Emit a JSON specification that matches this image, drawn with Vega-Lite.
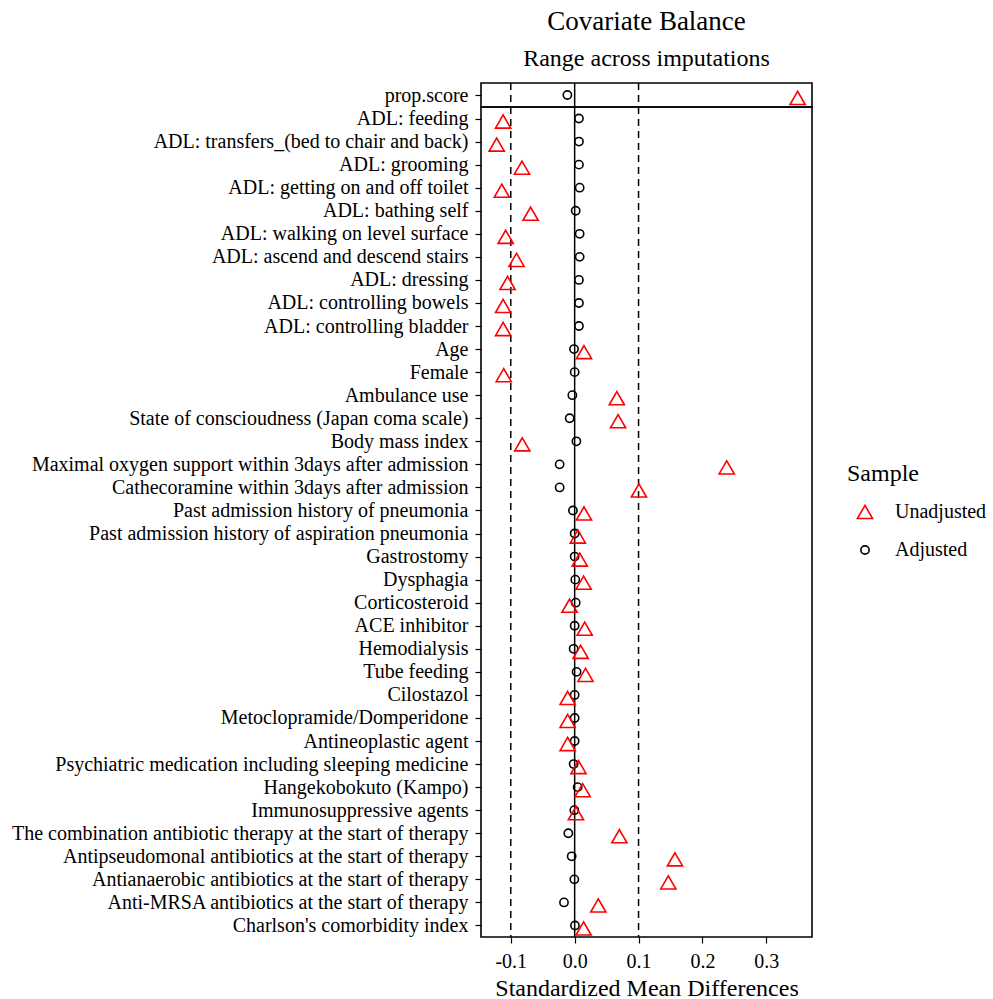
{
  "$schema": "https://vega.github.io/schema/vega-lite/v6.json",
  "padding": {"left": 0, "top": 7, "right": 0, "bottom": 0},
  "background": "white",
  "bounds": "flush",
  "config": {
    "font": "Liberation Serif",
    "view": {"stroke": "black", "strokeWidth": 1.6},
    "axis": {"labelFont": "Liberation Serif", "titleFont": "Liberation Serif", "labelColor": "black", "titleColor": "black", "tickColor": "black", "grid": false, "domain": false, "tickWidth": 1.2},
    "legend": {"labelFont": "Liberation Serif", "titleFont": "Liberation Serif", "labelColor": "black", "titleColor": "black"},
    "title": {"font": "Liberation Serif", "subtitleFont": "Liberation Serif", "color": "black", "subtitleColor": "black"}
  },
  "datasets": {
    "balance": [
      {"Variable": "prop.score", "Sample": "Unadjusted", "SMD": 0.349},
      {"Variable": "prop.score", "Sample": "Adjusted", "SMD": -0.0114},
      {"Variable": "ADL: feeding", "Sample": "Unadjusted", "SMD": -0.112},
      {"Variable": "ADL: feeding", "Sample": "Adjusted", "SMD": 0.0067},
      {"Variable": "ADL: transfers_(bed to chair and back)", "Sample": "Unadjusted", "SMD": -0.122},
      {"Variable": "ADL: transfers_(bed to chair and back)", "Sample": "Adjusted", "SMD": 0.0067},
      {"Variable": "ADL: grooming", "Sample": "Unadjusted", "SMD": -0.0825},
      {"Variable": "ADL: grooming", "Sample": "Adjusted", "SMD": 0.0067},
      {"Variable": "ADL: getting on and off toilet\u00a0", "Sample": "Unadjusted", "SMD": -0.114},
      {"Variable": "ADL: getting on and off toilet\u00a0", "Sample": "Adjusted", "SMD": 0.0078},
      {"Variable": "ADL: bathing self", "Sample": "Unadjusted", "SMD": -0.069},
      {"Variable": "ADL: bathing self", "Sample": "Adjusted", "SMD": 0.0016},
      {"Variable": "ADL: walking on level surface", "Sample": "Unadjusted", "SMD": -0.108},
      {"Variable": "ADL: walking on level surface", "Sample": "Adjusted", "SMD": 0.0078},
      {"Variable": "ADL: ascend and descend stairs", "Sample": "Unadjusted", "SMD": -0.091},
      {"Variable": "ADL: ascend and descend stairs", "Sample": "Adjusted", "SMD": 0.0078},
      {"Variable": "ADL: dressing", "Sample": "Unadjusted", "SMD": -0.105},
      {"Variable": "ADL: dressing", "Sample": "Adjusted", "SMD": 0.0067},
      {"Variable": "ADL: controlling bowels", "Sample": "Unadjusted", "SMD": -0.112},
      {"Variable": "ADL: controlling bowels", "Sample": "Adjusted", "SMD": 0.0067},
      {"Variable": "ADL: controlling bladder", "Sample": "Unadjusted", "SMD": -0.112},
      {"Variable": "ADL: controlling bladder", "Sample": "Adjusted", "SMD": 0.0067},
      {"Variable": "Age", "Sample": "Unadjusted", "SMD": 0.0146},
      {"Variable": "Age", "Sample": "Adjusted", "SMD": -0.001},
      {"Variable": "Female\u00a0\u00a0\u00a0\u00a0\u00a0", "Sample": "Unadjusted", "SMD": -0.111},
      {"Variable": "Female\u00a0\u00a0\u00a0\u00a0\u00a0", "Sample": "Adjusted", "SMD": 0.0},
      {"Variable": "Ambulance use", "Sample": "Unadjusted", "SMD": 0.066},
      {"Variable": "Ambulance use", "Sample": "Adjusted", "SMD": -0.0036},
      {"Variable": "State of conscioudness (Japan coma scale)", "Sample": "Unadjusted", "SMD": 0.068},
      {"Variable": "State of conscioudness (Japan coma scale)", "Sample": "Adjusted", "SMD": -0.0078},
      {"Variable": "Body mass index", "Sample": "Unadjusted", "SMD": -0.082},
      {"Variable": "Body mass index", "Sample": "Adjusted", "SMD": 0.0027},
      {"Variable": "Maximal oxygen support within 3days after admission", "Sample": "Unadjusted", "SMD": 0.238},
      {"Variable": "Maximal oxygen support within 3days after admission", "Sample": "Adjusted", "SMD": -0.0235},
      {"Variable": "Cathecoramine within 3days after admission", "Sample": "Unadjusted", "SMD": 0.1006},
      {"Variable": "Cathecoramine within 3days after admission", "Sample": "Adjusted", "SMD": -0.0235},
      {"Variable": "Past admission history of pneumonia", "Sample": "Unadjusted", "SMD": 0.0146},
      {"Variable": "Past admission history of pneumonia", "Sample": "Adjusted", "SMD": -0.0027},
      {"Variable": "Past admission history of aspiration pneumonia", "Sample": "Unadjusted", "SMD": 0.005},
      {"Variable": "Past admission history of aspiration pneumonia", "Sample": "Adjusted", "SMD": 0.0},
      {"Variable": "Gastrostomy", "Sample": "Unadjusted", "SMD": 0.008},
      {"Variable": "Gastrostomy", "Sample": "Adjusted", "SMD": 0.0},
      {"Variable": "Dysphagia", "Sample": "Unadjusted", "SMD": 0.014},
      {"Variable": "Dysphagia", "Sample": "Adjusted", "SMD": 0.001},
      {"Variable": "Corticosteroid", "Sample": "Unadjusted", "SMD": -0.008},
      {"Variable": "Corticosteroid", "Sample": "Adjusted", "SMD": 0.0016},
      {"Variable": "ACE inhibitor", "Sample": "Unadjusted", "SMD": 0.0157},
      {"Variable": "ACE inhibitor", "Sample": "Adjusted", "SMD": 0.0},
      {"Variable": "Hemodialysis", "Sample": "Unadjusted", "SMD": 0.0094},
      {"Variable": "Hemodialysis", "Sample": "Adjusted", "SMD": -0.0016},
      {"Variable": "Tube feeding", "Sample": "Unadjusted", "SMD": 0.017},
      {"Variable": "Tube feeding", "Sample": "Adjusted", "SMD": 0.003},
      {"Variable": "Cilostazol", "Sample": "Unadjusted", "SMD": -0.011},
      {"Variable": "Cilostazol", "Sample": "Adjusted", "SMD": 0.0},
      {"Variable": "Metoclopramide/Domperidone", "Sample": "Unadjusted", "SMD": -0.011},
      {"Variable": "Metoclopramide/Domperidone", "Sample": "Adjusted", "SMD": 0.0},
      {"Variable": "Antineoplastic agent", "Sample": "Unadjusted", "SMD": -0.011},
      {"Variable": "Antineoplastic agent", "Sample": "Adjusted", "SMD": 0.0},
      {"Variable": "Psychiatric medication including sleeping medicine", "Sample": "Unadjusted", "SMD": 0.006},
      {"Variable": "Psychiatric medication including sleeping medicine", "Sample": "Adjusted", "SMD": -0.0016},
      {"Variable": "Hangekobokuto (Kampo)", "Sample": "Unadjusted", "SMD": 0.0125},
      {"Variable": "Hangekobokuto (Kampo)", "Sample": "Adjusted", "SMD": 0.0047},
      {"Variable": "Immunosuppressive agents", "Sample": "Unadjusted", "SMD": 0.002},
      {"Variable": "Immunosuppressive agents", "Sample": "Adjusted", "SMD": -0.0005},
      {"Variable": "The combination antibiotic therapy at the start of therapy", "Sample": "Unadjusted", "SMD": 0.07},
      {"Variable": "The combination antibiotic therapy at the start of therapy", "Sample": "Adjusted", "SMD": -0.0099},
      {"Variable": "Antipseudomonal antibiotics at the start of therapy", "Sample": "Unadjusted", "SMD": 0.157},
      {"Variable": "Antipseudomonal antibiotics at the start of therapy", "Sample": "Adjusted", "SMD": -0.0047},
      {"Variable": "Antianaerobic antibiotics at the start of therapy", "Sample": "Unadjusted", "SMD": 0.1466},
      {"Variable": "Antianaerobic antibiotics at the start of therapy", "Sample": "Adjusted", "SMD": -0.0005},
      {"Variable": "Anti-MRSA antibiotics at the start of therapy", "Sample": "Unadjusted", "SMD": 0.037},
      {"Variable": "Anti-MRSA antibiotics at the start of therapy", "Sample": "Adjusted", "SMD": -0.0167},
      {"Variable": "Charlson's comorbidity index", "Sample": "Unadjusted", "SMD": 0.014},
      {"Variable": "Charlson's comorbidity index", "Sample": "Adjusted", "SMD": 0.0005}
    ]
  },
  "spacing": 0,
  "resolve": {"legend": {"shape": "independent", "color": "independent", "size": "independent"}},
  "vconcat": [
    {
      "width": 331,
      "height": 24,
      "title": {"text": "Covariate Balance", "subtitle": "Range across imputations", "anchor": "middle", "frame": "group", "fontSize": 27, "fontWeight": "normal", "subtitleFontSize": 24, "subtitlePadding": 11, "offset": 10},
      "layer": [
        {
          "data": {"values": [{"x": -0.1}, {"x": 0.1}]},
          "mark": {"type": "rule", "color": "black", "strokeWidth": 1.5, "strokeDash": [7, 5]},
          "encoding": {"x": {"field": "x", "type": "quantitative", "axis": null, "scale": {"domain": [-0.1466, 0.3715], "nice": false, "zero": false}}}
        },
        {
          "data": {"values": [{"x": 0}]},
          "mark": {"type": "rule", "color": "black", "strokeWidth": 1.5},
          "encoding": {"x": {"field": "x", "type": "quantitative", "axis": null, "scale": {"domain": [-0.1466, 0.3715], "nice": false, "zero": false}}}
        },
        {
          "data": {"name": "balance"},
          "transform": [{"filter": "datum.Variable == 'prop.score' && datum.Sample == 'Adjusted'"}],
          "mark": {"type": "point", "filled": false, "strokeWidth": 1.6, "opacity": 1},
          "encoding": {
            "x": {"field": "SMD", "type": "quantitative", "axis": null, "scale": {"domain": [-0.1466, 0.3715], "nice": false, "zero": false}},
            "y": {"field": "Variable", "type": "nominal", "sort": null, "title": null, "axis": {"labelFontSize": 20, "labelLimit": 478, "tickSize": 6, "labelPadding": 7, "minExtent": 479.5, "maxExtent": 479.5}},
            "shape": {"field": "Sample", "type": "nominal", "legend": null, "scale": {"domain": ["Unadjusted", "Adjusted"], "range": ["triangle-up", "circle"]}},
            "color": {"field": "Sample", "type": "nominal", "legend": null, "scale": {"domain": ["Unadjusted", "Adjusted"], "range": ["#ff0000", "#000000"]}},
            "size": {"field": "Sample", "type": "nominal", "legend": null, "scale": {"domain": ["Unadjusted", "Adjusted"], "range": [230, 68]}}
          }
        },
        {
          "data": {"name": "balance"},
          "transform": [{"filter": "datum.Variable == 'prop.score' && datum.Sample == 'Unadjusted'"}],
          "mark": {"type": "point", "filled": false, "strokeWidth": 1.6, "opacity": 1, "yOffset": 3},
          "encoding": {
            "x": {"field": "SMD", "type": "quantitative", "axis": null, "scale": {"domain": [-0.1466, 0.3715], "nice": false, "zero": false}},
            "y": {"field": "Variable", "type": "nominal", "sort": null, "title": null},
            "shape": {"field": "Sample", "type": "nominal", "legend": null, "scale": {"domain": ["Unadjusted", "Adjusted"], "range": ["triangle-up", "circle"]}},
            "color": {"field": "Sample", "type": "nominal", "legend": null, "scale": {"domain": ["Unadjusted", "Adjusted"], "range": ["#ff0000", "#000000"]}},
            "size": {"field": "Sample", "type": "nominal", "legend": null, "scale": {"domain": ["Unadjusted", "Adjusted"], "range": [230, 68]}}
          }
        }
      ]
    },
    {
      "width": 331,
      "height": 830,
      "layer": [
        {
          "data": {"values": [{"x": -0.1}, {"x": 0.1}]},
          "mark": {"type": "rule", "color": "black", "strokeWidth": 1.5, "strokeDash": [7, 5]},
          "encoding": {"x": {"field": "x", "type": "quantitative", "scale": {"domain": [-0.1466, 0.3715], "nice": false, "zero": false}}}
        },
        {
          "data": {"values": [{"x": 0}]},
          "mark": {"type": "rule", "color": "black", "strokeWidth": 1.5},
          "encoding": {"x": {"field": "x", "type": "quantitative", "scale": {"domain": [-0.1466, 0.3715], "nice": false, "zero": false}}}
        },
        {
          "data": {"name": "balance"},
          "transform": [{"filter": "datum.Variable != 'prop.score' && datum.Sample == 'Adjusted'"}],
          "mark": {"type": "point", "filled": false, "strokeWidth": 1.6, "opacity": 1},
          "encoding": {
            "x": {"field": "SMD", "type": "quantitative", "title": "Standardized Mean Differences", "scale": {"domain": [-0.1466, 0.3715], "nice": false, "zero": false}, "axis": {"values": [-0.1, 0, 0.1, 0.2, 0.3], "labelExpr": "datum.value < 0 ? '-' + format(-datum.value, '.1f') : format(datum.value, '.1f')", "labelFontSize": 20, "titleFontSize": 24, "titleFontWeight": "normal", "tickSize": 6, "labelPadding": 8, "titlePadding": 5}},
            "y": {"field": "Variable", "type": "nominal", "sort": null, "title": null, "scale": {"type": "point", "padding": 0.5}, "axis": {"labelFontSize": 20, "labelLimit": 478, "tickSize": 6, "labelPadding": 7, "minExtent": 479.5, "maxExtent": 479.5}},
            "shape": {"field": "Sample", "type": "nominal", "scale": {"domain": ["Unadjusted", "Adjusted"], "range": ["triangle-up", "circle"]}, "legend": {"orient": "none", "legendX": 366, "legendY": 355, "title": "Sample", "titleFontSize": 24, "titleFontWeight": "normal", "labelFontSize": 20, "titlePadding": 16, "rowPadding": 18, "symbolOffset": 8, "labelOffset": 20, "symbolStrokeWidth": 1.6}},
            "color": {"field": "Sample", "type": "nominal", "scale": {"domain": ["Unadjusted", "Adjusted"], "range": ["#ff0000", "#000000"]}},
            "size": {"field": "Sample", "type": "nominal", "scale": {"domain": ["Unadjusted", "Adjusted"], "range": [230, 68]}}
          }
        },
        {
          "data": {"name": "balance"},
          "transform": [{"filter": "datum.Variable != 'prop.score' && datum.Sample == 'Unadjusted'"}],
          "mark": {"type": "point", "filled": false, "strokeWidth": 1.6, "opacity": 1, "yOffset": 3},
          "encoding": {
            "x": {"field": "SMD", "type": "quantitative", "scale": {"domain": [-0.1466, 0.3715], "nice": false, "zero": false}},
            "y": {"field": "Variable", "type": "nominal", "sort": null, "title": null},
            "shape": {"field": "Sample", "type": "nominal", "scale": {"domain": ["Unadjusted", "Adjusted"], "range": ["triangle-up", "circle"]}},
            "color": {"field": "Sample", "type": "nominal", "scale": {"domain": ["Unadjusted", "Adjusted"], "range": ["#ff0000", "#000000"]}},
            "size": {"field": "Sample", "type": "nominal", "scale": {"domain": ["Unadjusted", "Adjusted"], "range": [230, 68]}}
          }
        }
      ]
    }
  ]
}
